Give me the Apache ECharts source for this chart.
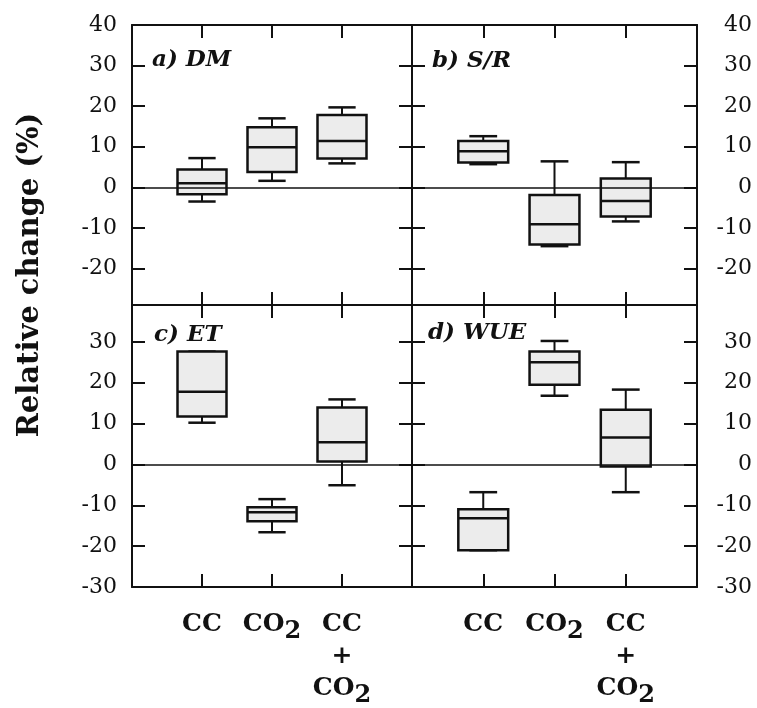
<!DOCTYPE html>
<html>
<head>
<meta charset="utf-8">
<script src="https://cdn.jsdelivr.net/npm/echarts@6/dist/echarts.min.js"></script>
<style>html,body{margin:0;padding:0;background:#fff}#c{width:757px;height:708px}</style>
</head>
<body>
<div id="c"></div>
<script>
// categories (x positions 1..3 on a 0..4 axis)
const categories = ['CC', 'CO2', 'CC+CO2'];
// each box: [min, Q1, median, Q3, max]
const dmData  = [[-3.5, -1.7, 1.0, 4.4, 7.2], [1.6, 3.8, 9.9, 14.8, 17.0], [5.9, 7.1, 11.4, 17.8, 19.7]];
const srData  = [[5.7, 6.1, 8.9, 11.4, 12.6], [-14.5, -14.1, -9.1, -1.9, 6.4], [-8.4, -7.2, -3.4, 2.2, 6.2]];
const etData  = [[10.2, 11.7, 17.8, 27.6, 27.6], [-16.6, -13.9, -11.7, -10.5, -8.5], [-5.1, 0.7, 5.4, 13.9, 15.9]];
const wueData = [[-21.0, -21.0, -13.2, -11.0, -6.8], [16.8, 19.5, 25.0, 27.6, 30.2], [-6.8, -0.5, 6.6, 13.4, 18.3]];
const panelTitles = ['a) DM', 'b) S/R', 'c) ET', 'd) WUE'];
const topTicks = [-20, -10, 0, 10, 20, 30, 40];
const bottomTicks = [-30, -20, -10, 0, 10, 20, 30];
const yTitle = 'Relative change (%)';

const SERIF = '"DejaVu Serif", "Liberation Serif", serif';
const chart = echarts.init(document.getElementById('c'), null, {renderer: 'canvas'});

const grids = [
  {left: 132, top: 25, width: 280, height: 280},
  {left: 412, top: 25, width: 285, height: 280},
  {left: 132, top: 305, width: 280, height: 282},
  {left: 412, top: 305, width: 285, height: 282}
];
const yRanges = [[-29, 40], [-29, 40], [-30, 39], [-30, 39]];
const allData = [dmData, srData, etData, wueData];

const axisLine = {show: true, onZero: false, lineStyle: {color: '#111', width: 2}};
const tickStyle = {show: true, inside: true, length: 13, lineStyle: {color: '#111', width: 2}};

function catLabel(v) {
  const name = categories[Math.round(v) - 1];
  if (name === 'CC') return '{b|CC}';
  if (name === 'CO2') return '{b|CO}{s|2}';
  if (name === 'CC+CO2') return '{b|CC}\n{b|+}\n{b|CO}{s|2}';
  return '';
}

const xAxes = [], yAxes = [], series = [];
grids.forEach((g, i) => {
  const isBottom = i >= 2;
  xAxes.push({
    gridIndex: i, type: 'value', position: 'bottom', min: 0, max: 4,
    axisLine: axisLine,
    axisTick: Object.assign({}, tickStyle, {customValues: [1, 2, 3]}),
    axisLabel: isBottom ? {
      show: true, customValues: [1, 2, 3], margin: 21,
      formatter: catLabel,
      rich: {
        b: {fontFamily: SERIF, fontWeight: 'bold', fontSize: 25, color: '#111', lineHeight: 32},
        s: {fontFamily: SERIF, fontWeight: 'bold', fontSize: 24, color: '#111', lineHeight: 32, padding: [15, 0, 0, 0]}
      }
    } : {show: false},
    splitLine: {show: false}
  });
  xAxes.push({
    gridIndex: i, type: 'value', position: 'top', min: 0, max: 4,
    axisLine: axisLine,
    axisTick: Object.assign({}, tickStyle, {customValues: [1, 2, 3]}),
    axisLabel: {show: false},
    splitLine: {show: false}
  });
  const ticks = isBottom ? bottomTicks : topTicks;
  const tickVals = ticks.filter(t => t > yRanges[i][0] && t < yRanges[i][1]);
  const isLeft = (i % 2) === 0;
  yAxes.push({
    gridIndex: i, type: 'value', position: 'left', min: yRanges[i][0], max: yRanges[i][1],
    axisLine: axisLine,
    axisTick: Object.assign({}, tickStyle, {customValues: tickVals}),
    axisLabel: isLeft ? {show: true, customValues: ticks, margin: 15, fontFamily: SERIF, fontSize: 22, color: '#111'} : {show: false},
    splitLine: {show: false}
  });
  yAxes.push({
    gridIndex: i, type: 'value', position: 'right', min: yRanges[i][0], max: yRanges[i][1],
    axisLine: axisLine,
    axisTick: Object.assign({}, tickStyle, {customValues: tickVals}),
    axisLabel: !isLeft ? {show: true, customValues: ticks, margin: 55, align: 'right', fontFamily: SERIF, fontSize: 22, color: '#111'} : {show: false},
    splitLine: {show: false}
  });
  series.push({
    type: 'custom',
    xAxisIndex: i * 2, yAxisIndex: i * 2,
    data: allData[i].map((b, k) => [k + 1].concat(b)),
    encode: {x: 0, y: [1, 2, 3, 4, 5]},
    renderItem: function (params, api) {
      const x = api.value(0);
      const lo = api.coord([x, api.value(1)]);
      const q1 = api.coord([x, api.value(2)]);
      const md = api.coord([x, api.value(3)]);
      const q3 = api.coord([x, api.value(4)]);
      const hi = api.coord([x, api.value(5)]);
      const bw = api.size([0.7, 0])[0];
      const cw = api.size([0.39, 0])[0];
      const cx = lo[0];
      const ls = {stroke: '#111', lineWidth: 2};
      return {
        type: 'group',
        children: [
          {type: 'line', shape: {x1: cx, y1: q3[1], x2: cx, y2: hi[1]}, style: ls},
          {type: 'line', shape: {x1: cx, y1: q1[1], x2: cx, y2: lo[1]}, style: ls},
          {type: 'line', shape: {x1: cx - cw / 2, y1: hi[1], x2: cx + cw / 2, y2: hi[1]}, style: {stroke: '#111', lineWidth: 2.5}},
          {type: 'line', shape: {x1: cx - cw / 2, y1: lo[1], x2: cx + cw / 2, y2: lo[1]}, style: {stroke: '#111', lineWidth: 2.5}},
          {type: 'rect', shape: {x: cx - bw / 2, y: q3[1], width: bw, height: q1[1] - q3[1]}, style: {fill: '#ececec', stroke: '#111', lineWidth: 2.5}},
          {type: 'line', shape: {x1: cx - bw / 2, y1: md[1], x2: cx + bw / 2, y2: md[1]}, style: {stroke: '#111', lineWidth: 2.5}}
        ]
      };
    },
    markLine: {
      silent: true, symbol: 'none', label: {show: false},
      lineStyle: {color: '#111', width: 1.5, type: 'solid'},
      data: [{yAxis: 0}]
    },
    z: 2
  });
});

const titlePos = [
  {left: 152, top: 49},
  {left: 432, top: 50},
  {left: 154, top: 324},
  {left: 428, top: 322}
];
const titles = panelTitles.map((t, i) => ({
  text: t, left: titlePos[i].left, top: titlePos[i].top, padding: 0,
  textStyle: {fontFamily: SERIF, fontStyle: 'italic', fontWeight: 'bold', fontSize: 23, color: '#111'}
}));

chart.setOption({
  animation: false,
  backgroundColor: '#fff',
  title: titles,
  grid: grids.map(g => Object.assign({containLabel: false, show: false}, g)),
  xAxis: xAxes,
  yAxis: yAxes,
  series: series,
  graphic: [{
    type: 'text', x: 30, y: 275, rotation: Math.PI / 2,
    style: {text: yTitle, fontFamily: SERIF, fontWeight: 'bold', fontSize: 29, fill: '#111', align: 'center', verticalAlign: 'middle'}
  }]
});
</script>
</body>
</html>
